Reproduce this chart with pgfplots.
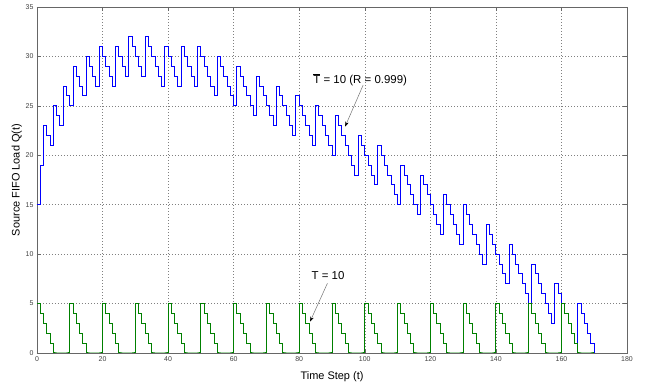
\documentclass[border=0pt]{standalone}
\usepackage{fontspec}
\setmainfont{Liberation Sans}
\usepackage{pgfplots}
\usepackage{pgfplotstable}
\pgfplotsset{compat=1.18}
\usetikzlibrary{arrows.meta}
\pgfplotstableread{
t q
0 15
1 19
2 23
3 22
4 21
5 25
6 24
7 23
8 27
9 26
10 25
11 29
12 28
13 27
14 26
15 30
16 29
17 28
18 27
19 31
20 30
21 29
22 28
23 27
24 31
25 30
26 29
27 28
28 32
29 31
30 30
31 29
32 28
33 32
34 31
35 30
36 29
37 28
38 27
39 31
40 30
41 29
42 28
43 27
44 31
45 30
46 29
47 28
48 27
49 31
50 30
51 29
52 28
53 27
54 26
55 30
56 29
57 28
58 27
59 26
60 25
61 29
62 28
63 27
64 26
65 25
66 24
67 28
68 27
69 26
70 25
71 24
72 23
73 27
74 26
75 25
76 24
77 23
78 22
79 26
80 25
81 24
82 23
83 22
84 21
85 25
86 24
87 23
88 22
89 21
90 20
91 24
92 23
93 22
94 21
95 20
96 19
97 18
98 22
99 21
100 20
101 19
102 18
103 17
104 21
105 20
106 19
107 18
108 17
109 16
110 15
111 19
112 18
113 17
114 16
115 15
116 14
117 18
118 17
119 16
120 15
121 14
122 13
123 12
124 16
125 15
126 14
127 13
128 12
129 11
130 15
131 14
132 13
133 12
134 11
135 10
136 9
137 13
138 12
139 11
140 10
141 9
142 8
143 7
144 11
145 10
146 9
147 8
148 7
149 6
150 5
151 9
152 8
153 7
154 6
155 5
156 4
157 3
158 7
159 6
160 5
161 4
162 3
163 2
164 1
165 5
166 4
167 3
168 2
169 1
170 0
}\bluedata
\pgfplotstableread{
t g
0 5
1 4
2 3
3 2
4 1
5 0
6 0
7 0
8 0
9 0
10 5
11 4
12 3
13 2
14 1
15 0
16 0
17 0
18 0
19 0
20 5
21 4
22 3
23 2
24 1
25 0
26 0
27 0
28 0
29 0
30 5
31 4
32 3
33 2
34 1
35 0
36 0
37 0
38 0
39 0
40 5
41 4
42 3
43 2
44 1
45 0
46 0
47 0
48 0
49 0
50 5
51 4
52 3
53 2
54 1
55 0
56 0
57 0
58 0
59 0
60 5
61 4
62 3
63 2
64 1
65 0
66 0
67 0
68 0
69 0
70 5
71 4
72 3
73 2
74 1
75 0
76 0
77 0
78 0
79 0
80 5
81 4
82 3
83 2
84 1
85 0
86 0
87 0
88 0
89 0
90 5
91 4
92 3
93 2
94 1
95 0
96 0
97 0
98 0
99 0
100 5
101 4
102 3
103 2
104 1
105 0
106 0
107 0
108 0
109 0
110 5
111 4
112 3
113 2
114 1
115 0
116 0
117 0
118 0
119 0
120 5
121 4
122 3
123 2
124 1
125 0
126 0
127 0
128 0
129 0
130 5
131 4
132 3
133 2
134 1
135 0
136 0
137 0
138 0
139 0
140 5
141 4
142 3
143 2
144 1
145 0
146 0
147 0
148 0
149 0
150 5
151 4
152 3
153 2
154 1
155 0
156 0
157 0
158 0
159 0
160 5
161 4
162 3
163 2
164 1
165 0
166 0
167 0
168 0
169 0
170 0
}\greendata
\definecolor{mblue}{RGB}{0,0,255}
\definecolor{mgreen}{RGB}{0,128,0}
\begin{document}
\begin{tikzpicture}
\begin{axis}[
  scale only axis, width=590bp, height=346bp,
  xmin=0, xmax=180, ymin=0, ymax=35,
  xtick={0,20,...,180}, ytick={0,5,...,35},
  grid=major,
  major grid style={gray, dash pattern=on 1bp off 2bp, line width=0.5bp},
  axis line style={black!60, line width=0.6bp},
  tick align=inside, major tick length=4bp,
  tick style={black!60, line width=0.5bp},
  ticklabel style={font=\fontsize{7}{8}\selectfont, text=black!75},
  /pgf/number format/assume math mode=true,
  xlabel={Time Step (t)}, ylabel={Source FIFO Load Q(t)},
  label style={font=\fontsize{11}{13}\selectfont},
  xlabel style={yshift=-3bp},
  ylabel style={yshift=-3bp},
]
\addplot[mblue, line width=1bp, const plot] table[x=t, y=q] {\bluedata};
\addplot[mgreen, line width=1bp, const plot] table[x=t, y=g] {\greendata};
\node[font=\fontsize{11.5}{13}\selectfont] at (axis cs:98.6,27.6) {$\overline{\mbox{T}}$ = 10 (R = 0.999)};
\draw[black!55, line width=0.5bp, -{Stealth[color=black, length=5bp, width=3.5bp]}] (axis cs:99.5,27.1) -- (axis cs:94.0,22.9);
\node[font=\fontsize{11.5}{13}\selectfont] at (axis cs:88.8,7.8) {T = 10};
\draw[black!55, line width=0.5bp, -{Stealth[color=black, length=5bp, width=3.5bp]}] (axis cs:88.6,7.05) -- (axis cs:83.3,3.17);
\end{axis}
\path ([shift={(-37bp,-32bp)}]current axis.south west) rectangle ([shift={(24bp,7bp)}]current axis.north east);
\end{tikzpicture}
\end{document}
